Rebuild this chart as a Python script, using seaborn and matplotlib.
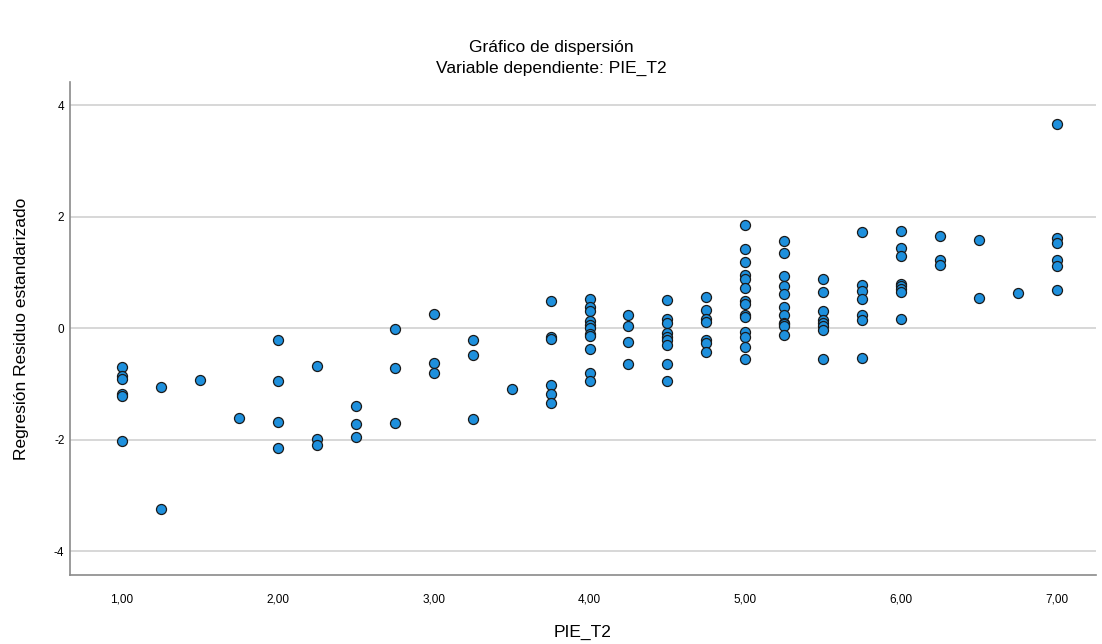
import numpy as np
import pandas as pd
import matplotlib
matplotlib.use('Agg')
import matplotlib.pyplot as plt
import seaborn as sns

# PIE_T2 value and standardized residual, read column by column
x_vals = [1.00] * 6 + [1.25] * 2 + [1.50] + [1.75] + [2.00] * 4 + [2.25] * 3 + [2.50] * 3 \
    + [2.75] * 3 + [3.00] * 3 + [3.25] * 3 + [3.50] + [3.75] * 6 + [4.00] * 11 + [4.25] * 4 \
    + [4.50] * 9 + [4.75] * 7 + [5.00] * 14 + [5.25] * 11 + [5.50] * 8 + [5.75] * 7 \
    + [6.00] * 8 + [6.25] * 3 + [6.50] * 2 + [6.75] + [7.00] * 6
residuals = [
    -0.69, -0.85, -0.91, -1.18, -1.22, -2.03,            # 1.00
    -1.06, -3.24,                                        # 1.25
    -0.93,                                               # 1.50
    -1.62,                                               # 1.75
    -0.21, -0.95, -1.69, -2.15,                          # 2.00
    -0.68, -1.99, -2.09,                                 # 2.25
    -1.39, -1.72, -1.96,                                 # 2.50
    -0.01, -0.71, -1.71,                                 # 2.75
    0.26, -0.63, -0.80,                                  # 3.00
    -0.22, -0.49, -1.63,                                 # 3.25
    -1.10,                                               # 3.50
    0.49, -0.15, -0.20, -1.02, -1.18, -1.34,             # 3.75
    0.53, 0.38, 0.30, 0.12, 0.06, 0.00, -0.10, -0.14, -0.38, -0.81, -0.94,  # 4.00
    0.24, 0.04, -0.25, -0.65,                            # 4.25
    0.51, 0.17, 0.09, -0.08, -0.15, -0.22, -0.30, -0.65, -0.95,  # 4.50
    0.56, 0.32, 0.17, 0.11, -0.21, -0.27, -0.43,         # 4.75
    1.85, 1.42, 1.18, 0.96, 0.88, 0.72, 0.49, 0.44, 0.23, 0.20, -0.06, -0.16, -0.33, -0.56,  # 5.00
    1.57, 1.34, 0.94, 0.76, 0.61, 0.38, 0.23, 0.10, 0.07, 0.03, -0.12,  # 5.25
    0.89, 0.65, 0.31, 0.15, 0.09, 0.03, -0.04, -0.55,    # 5.50
    1.73, 0.77, 0.66, 0.52, 0.23, 0.14, -0.53,           # 5.75
    1.74, 1.43, 1.29, 0.79, 0.75, 0.71, 0.64, 0.17,      # 6.00
    1.66, 1.23, 1.13,                                    # 6.25
    1.58, 0.54,                                          # 6.50
    0.63,                                                # 6.75
    3.66, 1.62, 1.53, 1.23, 1.12, 0.68,                  # 7.00
]

x_ticks = [1, 2, 3, 4, 5, 6, 7]
x_tick_labels = ['1,00', '2,00', '3,00', '4,00', '5,00', '6,00', '7,00']
y_ticks = [-4, -2, 0, 2, 4]
y_tick_labels = ['-4', '-2', '0', '2', '4']

df = pd.DataFrame({'PIE_T2': x_vals, 'resid': residuals})

sns.set_style('white')
plt.rcParams['font.family'] = ['Liberation Sans', 'DejaVu Sans']
plt.rcParams['text.color'] = 'black'

fig = plt.figure(figsize=(11.02, 6.44), dpi=100)
ax = fig.add_axes([0.0635, 0.107, 0.931, 0.766])

ax.grid(axis='y', color='#d4d4d4', linewidth=1.3, zorder=0)
ax.set_axisbelow(True)

sns.scatterplot(data=df, x='PIE_T2', y='resid', ax=ax, s=52,
                color='#1e90dd', edgecolor='#1a1a1a', linewidth=0.9, zorder=3)

ax.set_xlim(0.666, 7.25)
ax.set_ylim(-4.43, 4.42)
ax.set_xticks(x_ticks)
ax.set_xticklabels(x_tick_labels, fontsize=8.5)
ax.set_yticks(y_ticks)
ax.set_yticklabels(y_tick_labels, fontsize=8.5)
ax.tick_params(axis='x', length=0, pad=13, labelcolor='black')
ax.tick_params(axis='y', length=0, pad=4, labelcolor='black')

for side in ['top', 'right']:
    ax.spines[side].set_visible(False)
for side in ['left', 'bottom']:
    ax.spines[side].set_color('#8a8a8a')
    ax.spines[side].set_linewidth(1.2)

ax.set_xlabel('PIE_T2', fontsize=12.5, labelpad=14, color='black')
ax.set_ylabel('Regresión Residuo estandarizado', fontsize=12.5, labelpad=18, color='black')

fig.text(0.5, 0.927, 'Gráfico de dispersión', ha='center', va='center', fontsize=12.5)
fig.text(0.5, 0.893, 'Variable dependiente: PIE_T2', ha='center', va='center', fontsize=12.5)

fig.savefig('out.png', dpi=100)
